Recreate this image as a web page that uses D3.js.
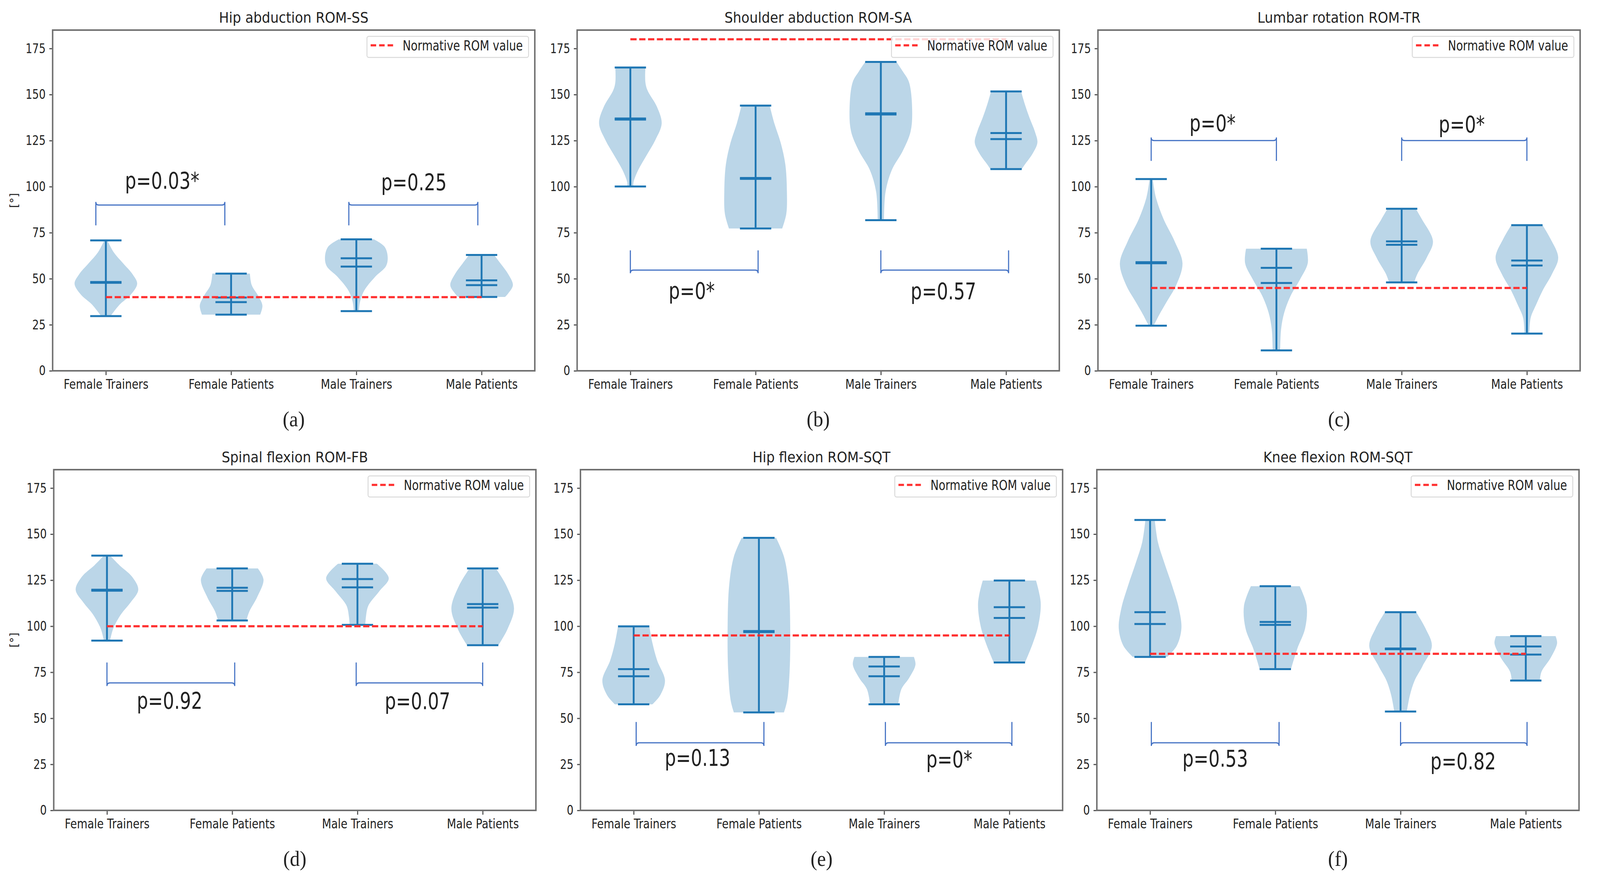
<!DOCTYPE html>
<html>
<head>
<meta charset="utf-8">
<script src="https://cdn.jsdelivr.net/npm/d3@7"></script>
<style>
  html, body { margin: 0; padding: 0; background: #fff; overflow: hidden; }
  svg { display: block; }
  text { font-family: "DejaVu Sans", sans-serif; fill: #222; }
  .cap { font-family: "Liberation Serif", "DejaVu Serif", serif; }
</style>
</head>
<body>
<svg id="chart" viewBox="0 0 4347 2288" preserveAspectRatio="none" style="width:100vw;height:100vh"></svg>
<script>
// groups on the x axis
var categories = ["Female Trainers", "Female Patients", "Male Trainers", "Male Patients"];
var titles = ["Hip abduction ROM-SS", "Shoulder abduction ROM-SA", "Lumbar rotation ROM-TR",
              "Spinal flexion ROM-FB", "Hip flexion ROM-SQT", "Knee flexion ROM-SQT"];
var captions = ["(a)", "(b)", "(c)", "(d)", "(e)", "(f)"];
var yTicks = [0, 25, 50, 75, 100, 125, 150, 175];

// normative ROM value per panel
var normative = [40, 180, 45, 100, 95, 85];

// p values of the two comparisons per panel
var pValues = [["p=0.03*", "p=0.25"], ["p=0*", "p=0.57"], ["p=0*", "p=0*"],
               ["p=0.92", "p=0.07"], ["p=0.13", "p=0*"], ["p=0.53", "p=0.82"]];

// mean and median per violin
var means = [[48.2, 39.8, 61.1, 49.1], [136.4, 104.2, 139.2, 129.1], [58.4, 55.9, 70.3, 59.9],
             [119.3, 120.9, 125.6, 112.0], [76.7, 96.8, 78.1, 110.3], [107.6, 102.3, 87.5, 89.0]];
var medians = [[47.8, 37.3, 56.6, 46.5], [137.0, 104.7, 139.8, 125.8], [59.0, 47.7, 68.4, 57.2],
               [119.8, 119.2, 121.1, 110.1], [72.8, 97.4, 72.8, 104.5], [101.2, 100.7, 87.9, 84.6]];

// violin outlines: [value, relative half width], from max down to min
var profiles = [
  [
    [[70.8,0.05],[64.4,0.25],[58.4,0.55],[52.5,0.85],[47.3,1.0],[41.4,0.8],[36.1,0.45],[29.7,0.15]],
    [[52.8,0.6],[46.5,0.66],[40.6,0.87],[35.4,1.0],[30.5,0.93]],
    [[71.4,0.56],[67.4,0.9],[62.1,1.0],[56.9,0.95],[51,0.6],[43.5,0.25],[37.6,0.12],[32.4,0.08]],
    [[62.9,0.4],[58.4,0.6],[52.5,0.85],[46.5,1.0],[42,0.85],[40.1,0.75]]
  ],
  [
    [[164.7,0.48],[156.7,0.48],[152.2,0.55],[143.3,0.85],[134.3,1.0],[125.4,0.8],[116.5,0.5],[109,0.25],[102.3,0.1],[100.1,0.1]],
    [[144,0.45],[134.3,0.6],[123.9,0.8],[112,0.95],[97.1,1.0],[85.2,0.98],[77.3,0.85]],
    [[167.7,0.5],[162.6,0.7],[156.7,0.9],[141.8,1.0],[129.9,0.95],[119.4,0.7],[109,0.35],[97.1,0.15],[81.8,0.1]],
    [[151.7,0.48],[144.7,0.6],[137.3,0.75],[129.9,0.92],[123.9,1.0],[118,0.85],[112,0.6],[109.5,0.5]]
  ],
  [
    [[104.1,0.05],[94.2,0.15],[82.2,0.4],[70.3,0.75],[58.4,1.0],[46.5,0.8],[37.6,0.5],[30.2,0.25],[24.5,0.08]],
    [[66.3,0.97],[58.4,1.0],[49.5,0.75],[40.6,0.45],[31.6,0.25],[22.7,0.15],[11.1,0.12]],
    [[88,0.45],[82.2,0.65],[70.3,1.0],[61.4,0.8],[52.5,0.5],[48,0.4]],
    [[79.1,0.5],[71.8,0.75],[61.4,1.0],[52.5,0.8],[43.5,0.5],[36.1,0.3],[28.7,0.12],[20.2,0.08]]
  ],
  [
    [[138.3,0.1],[133.1,0.4],[126.9,0.8],[119.8,1.0],[112.8,0.75],[106.5,0.45],[98.7,0.2],[92.2,0.1]],
    [[131.4,0.82],[125.3,1.0],[115.9,0.8],[108.1,0.55],[103.1,0.45]],
    [[133.9,0.62],[126.1,1.0],[119,0.7],[111.2,0.35],[104.9,0.27],[100.7,0.25]],
    [[131.4,0.42],[122.2,0.75],[109.6,1.0],[98.7,0.8],[92.4,0.6],[89.7,0.5]]
  ],
  [
    [[99.9,0.5],[90.8,0.6],[81.4,0.75],[70.5,1.0],[62.6,0.85],[57.6,0.6]],
    [[148,0.55],[137.8,0.8],[122.2,0.95],[98.7,1.0],[75.2,0.98],[59.5,0.9],[53.2,0.8]],
    [[83.3,0.95],[79.1,1.0],[72,0.8],[65.8,0.55],[57.6,0.45]],
    [[124.8,0.85],[112.8,1.0],[100.2,0.92],[90.8,0.75],[80.3,0.5]]
  ],
  [
    [[157.7,0.15],[145.7,0.25],[134.7,0.45],[122.2,0.7],[109.6,0.92],[98.7,1.0],[89.3,0.85],[83.3,0.55]],
    [[121.7,0.78],[111.2,1.0],[98.7,0.95],[87.7,0.7],[76.7,0.5]],
    [[107.6,0.5],[98.7,0.8],[89.3,1.0],[78.3,0.7],[70.5,0.45],[62.6,0.3],[53.7,0.2]],
    [[94.6,0.95],[90.8,1.0],[83,0.8],[75.2,0.5],[70.5,0.45]]
  ]
];

// annotation placement in data units: bracket [x0, x1, bar, leg end], label [x, baseline]
var brackets = [
  [[0.92,1.95,90,79],[2.94,3.97,90,79]],
  [[1.0,2.02,54.7,65.4],[3.0,4.02,54.7,65.4]],
  [[1.0,2.0,125,114],[3.0,4.0,125,114]],
  [[1.0,2.02,69.2,80.3],[2.99,4.0,69.2,80.3]],
  [[1.02,2.04,36.7,48],[3.01,4.02,36.7,48]],
  [[1.01,2.03,36.7,48],[3.0,4.01,36.7,48]]
];
var pLabelPos = [
  [[1.45,98.9],[3.46,98]], [[1.49,39],[3.5,38.8]], [[1.49,130],[3.48,129.5]],
  [[1.5,55.1],[3.48,55]], [[1.51,24.2],[3.52,23.4]], [[1.52,23.8],[3.5,22.2]]
];

// panel frames
var lefts = [143, 1568, 2983, 146, 1577, 2980];
var tops = [77, 77, 77, 1202, 1202, 1202];
var W = 1310, H = 872;
var blue = "#1f77b4";
var red = "#ff3030";

var svg = d3.select("#chart");

// the source figure is squeezed sideways: narrow the glyphs around their anchor
function squeeze(sel, k) {
  sel.each(function() {
    var t = d3.select(this);
    var x0 = +t.attr("x") || 0;
    t.attr("transform", "translate(" + (x0 * (1 - k)) + ",0) scale(" + k + ",1)");
  });
}

titles.forEach(function(title, p) {
  var g = svg.append("g").attr("transform", "translate(" + lefts[p] + "," + tops[p] + ")");
  var x = d3.scaleLinear().domain([0.575, 4.425]).range([0, W]);
  var y = d3.scaleLinear().domain([0, 185]).range([H, 0]);
  var halfW = x(1.25) - x(1);   // widths 0.5 -> half 0.25
  var capW = halfW / 2;

  // violins
  var area = d3.area()
    .y(function(d) { return y(d[0]); })
    .x0(function(d) { return -d[1] * halfW; })
    .x1(function(d) { return d[1] * halfW; })
    .curve(d3.curveCatmullRom);

  profiles[p].forEach(function(prof, i) {
    var cx = x(i + 1);
    var vg = g.append("g").attr("transform", "translate(" + cx + ",0)");
    vg.append("path").attr("d", area(prof))
      .attr("fill", blue).attr("fill-opacity", 0.3).attr("stroke", "none");
    var vmax = prof[0][0], vmin = prof[prof.length - 1][0];
    vg.append("line").attr("x1", 0).attr("x2", 0).attr("y1", y(vmax)).attr("y2", y(vmin))
      .attr("stroke", blue).attr("stroke-width", 5);
    [vmax, vmin, means[p][i], medians[p][i]].forEach(function(v) {
      vg.append("line").attr("x1", -capW).attr("x2", capW).attr("y1", y(v)).attr("y2", y(v))
        .attr("stroke", blue).attr("stroke-width", 5);
    });
  });

  // normative line
  g.append("line")
    .attr("x1", x(1)).attr("x2", x(4))
    .attr("y1", y(normative[p])).attr("y2", y(normative[p]))
    .attr("stroke", red).attr("stroke-width", 5.5).attr("stroke-dasharray", "17,7");

  // brackets + p values
  brackets[p].forEach(function(b, k) {
    var x0 = x(b[0]), x1 = x(b[1]), yb = y(b[2]), yl = y(b[3]);
    var s = yl < yb ? -1 : 1, r = 8;
    var path = "M" + x0 + "," + yl + " L" + x0 + "," + (yb - s * r) +
      " Q" + x0 + "," + yb + " " + (x0 + r) + "," + yb +
      " L" + (x1 - r) + "," + yb +
      " Q" + x1 + "," + yb + " " + x1 + "," + (yb - s * r) +
      " L" + x1 + "," + yl;
    g.append("path").attr("d", path).attr("fill", "none")
      .attr("stroke", "#4472c4").attr("stroke-width", 3);
    var pt = g.append("text").attr("x", x(pLabelPos[p][k][0])).attr("y", y(pLabelPos[p][k][1]))
      .attr("text-anchor", "middle").style("font-size", "58px").attr("fill", "#333").text(pValues[p][k]);
    squeeze(pt, 0.83);
  });

  // axes
  var yAxis = g.append("g").call(d3.axisLeft(y).tickValues(yTicks).tickSize(9).tickPadding(10));
  var xAxis = g.append("g").attr("transform", "translate(0," + H + ")")
    .call(d3.axisBottom(x).tickValues([1, 2, 3, 4]).tickSize(11).tickPadding(8)
      .tickFormat(function(d) { return categories[d - 1]; }));
  [yAxis, xAxis].forEach(function(a) {
    a.select(".domain").remove();
    a.selectAll("line").attr("stroke", "#555").attr("stroke-width", 3);
    a.selectAll("text").style("font-size", "34px").attr("fill", "#222");
  });
  xAxis.selectAll("text").attr("dy", "0.78em");
  squeeze(yAxis.selectAll("text"), 0.84);
  squeeze(xAxis.selectAll("text"), 0.86);

  g.append("rect").attr("width", W).attr("height", H)
    .attr("fill", "none").attr("stroke", "#707070").attr("stroke-width", 4);

  // legend
  var lg = g.append("g").attr("transform", "translate(" + (W - 456) + ",16)");
  lg.append("rect").attr("width", 439).attr("height", 54).attr("rx", 5)
    .attr("fill", "#fff").attr("fill-opacity", 0.8).attr("stroke", "#d9d9d9").attr("stroke-width", 2.5);
  lg.append("line").attr("x1", 10).attr("x2", 73).attr("y1", 23).attr("y2", 23)
    .attr("stroke", red).attr("stroke-width", 5.5).attr("stroke-dasharray", "15,8");
  var lt = lg.append("text").attr("x", 97).attr("y", 36).style("font-size", "36px").text("Normative ROM value");
  squeeze(lt, 0.83);

  // title, y label, caption
  var tt = g.append("text").attr("x", W / 2).attr("y", -19).attr("text-anchor", "middle")
    .style("font-size", "38px").text(title);
  squeeze(tt, 0.95);
  if (p % 3 === 0) {
    g.append("text").attr("transform", "translate(" + (38 - lefts[p]) + "," + (H / 2) + ") rotate(-90)")
      .attr("text-anchor", "middle").attr("dy", "0.35em").style("font-size", "30px").text("[°]");
  }
  g.append("text").attr("class", "cap").attr("x", W / 2).attr("y", H + 142)
    .attr("text-anchor", "middle").style("font-size", "54px").text(captions[p]);
});
</script>
</body>
</html>
